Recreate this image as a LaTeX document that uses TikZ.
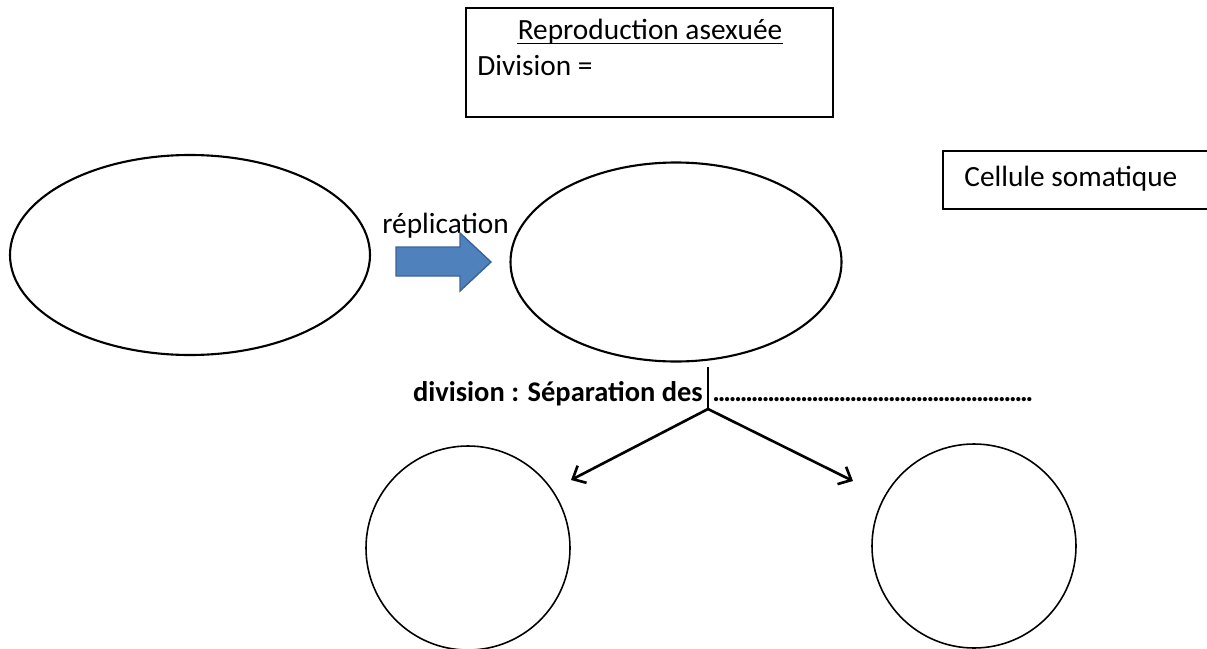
\documentclass[tikz,border=0pt]{standalone}
\usepackage{fontspec}
\setmainfont{Carlito}
\usetikzlibrary{shapes.geometric, arrows.meta, fit}
\definecolor{repblue}{HTML}{4F81BD}
\definecolor{repedge}{HTML}{3C6496}
\newlength\pxu
\setlength\pxu{0.02cm}
\tikzset{
  cell/.style={draw, ellipse, line width=1.2pt, inner sep=0pt},
  daughter/.style={draw, circle, line width=0.9pt, inner sep=0pt, minimum size=204*\pxu},
  labelbox/.style={draw, line width=0.9pt, inner sep=0pt},
  txt/.style={inner sep=0pt, font=\fontsize{16.7}{19}\selectfont},
  boldtxt/.style={inner sep=0pt, font=\fontsize{16.2}{19}\selectfont\bfseries},
  replarrow/.style={fill=repblue, draw=repedge, line width=0.8pt},
  stemline/.style={line width=1.2pt},
  sepedge/.style={-{Straight Barb[length=6pt,width=11pt]}, line width=1.5pt}
}

\begin{document}
\begin{tikzpicture}[x=\pxu, y=-\pxu]
  \useasboundingbox (0,0) rectangle (1207,649);
  \node[labelbox, fit={(466,8) (833,117)}] (defbox) {};
  \node[txt, anchor=base] (title) at (650,39) {Reproduction asexuée};
  \draw[line width=0.7pt] ([yshift=-2.5pt]title.base west) -- ([yshift=-2.5pt]title.base east);
  \node[txt, anchor=base west] (divdef) at (477,75) {Division =};
  \node[labelbox, fit={(943,151) (1215,209)}] (somabox) {};
  \node[txt, anchor=base west] (soma) at (964,186) {Cellule somatique};

  \node[cell, minimum width=360*\pxu, minimum height=200*\pxu] (mother) at (190,255) {};
  \node[cell, minimum width=331*\pxu, minimum height=199*\pxu] (copy) at (676,262) {};
  \node[txt, anchor=base west] (repl) at (382,233) {réplication};
  \draw[replarrow] (396,247) -- (460,247) -- (460,233) -- (491,262)
    -- (460,291) -- (460,276) -- (396,276) -- cycle;

  \node[boldtxt, anchor=base east] (seplabel) at (703,401) {division : Séparation des};
  \node[boldtxt, anchor=base west] (dots) at (712,401)
    {\addfontfeature{LetterSpace=-7.4}..........................................................};

  \coordinate (stemtop) at (708,367);
  \coordinate (split) at (708,409);
  \coordinate (tipL) at (571,480);
  \coordinate (tipR) at (853,481);
  \draw[stemline] (stemtop) -- (split);
  \draw[sepedge] (split) -- (tipL);
  \draw[sepedge] (split) -- (tipR);

  \node[daughter] (left) at (468,548) {};
  \node[daughter] (right) at (974,546) {};
\end{tikzpicture}
\end{document}
